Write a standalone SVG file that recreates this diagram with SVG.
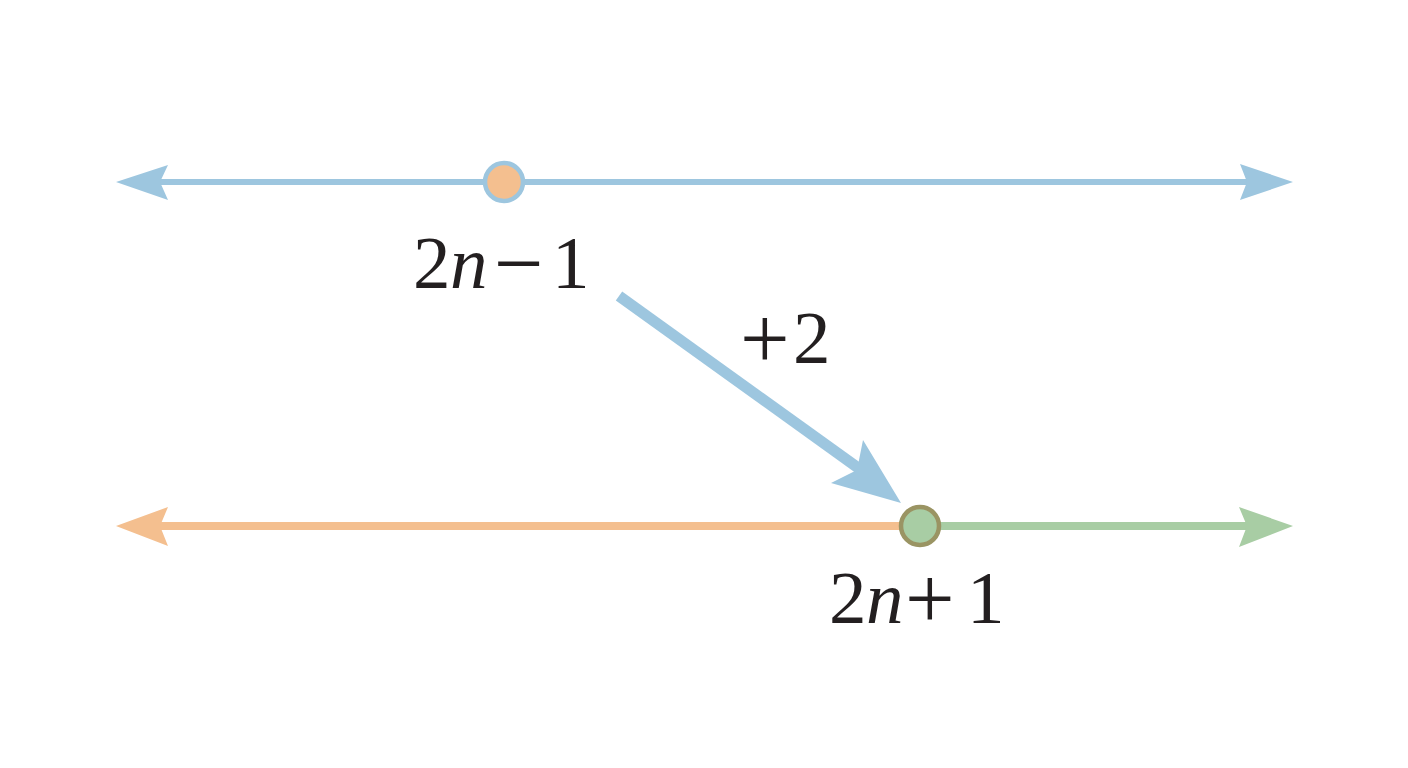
<svg xmlns="http://www.w3.org/2000/svg" width="1408" height="768" viewBox="0 0 1408 768">
<style>
.t{font-family:"Liberation Serif","Times New Roman",serif;font-size:75px;fill:#231f20}
.op{font-size:88px}
.i{font-style:italic}
</style>
<rect width="1408" height="768" fill="#ffffff"/>
<g id="connectors">
  <line x1="160" y1="182" x2="1250" y2="182" stroke="#9dc6df" stroke-width="6"/>
  <polygon points="116,182 168,165 160,182 168,200" fill="#9dc6df"/>
  <polygon points="1293,182 1240,164 1247,182 1240,200" fill="#9dc6df"/>
  <line x1="160" y1="526" x2="920" y2="526" stroke="#f4bf8f" stroke-width="8"/>
  <polygon points="116,526 168,507 160,526 168,546" fill="#f4bf8f"/>
  <line x1="920" y1="526" x2="1250" y2="526" stroke="#a8cda4" stroke-width="8"/>
  <polygon points="1293,526 1239,507 1247,526 1239,547" fill="#a8cda4"/>
  <line x1="619" y1="296" x2="868" y2="475" stroke="#9dc6df" stroke-width="11"/>
  <polygon points="901,503 831,483 857,470 863,440" fill="#9dc6df"/>
</g>
<g id="node-top">
  <circle cx="504" cy="182" r="19" fill="#f4bf8f" stroke="#9dc6df" stroke-width="4.5"/>
</g>
<g id="node-bottom">
  <circle cx="920" cy="526" r="19" fill="#a8cda4" stroke="#9a9463" stroke-width="4.5"/>
</g>
<g id="label-top">
  <text class="t" x="413" y="288">2</text>
  <text class="t i" x="450" y="288">n</text>
  <text class="t op" x="494" y="293">−</text>
  <text class="t" x="552" y="288">1</text>
</g>
<g id="label-bottom">
  <text class="t" x="829" y="623">2</text>
  <text class="t i" x="866" y="623">n</text>
  <text class="t op" x="905" y="628">+</text>
  <text class="t" x="967" y="623">1</text>
</g>
<g id="label-step">
  <text class="t op" x="740" y="368">+</text>
  <text class="t" x="793" y="363">2</text>
</g>
</svg>
